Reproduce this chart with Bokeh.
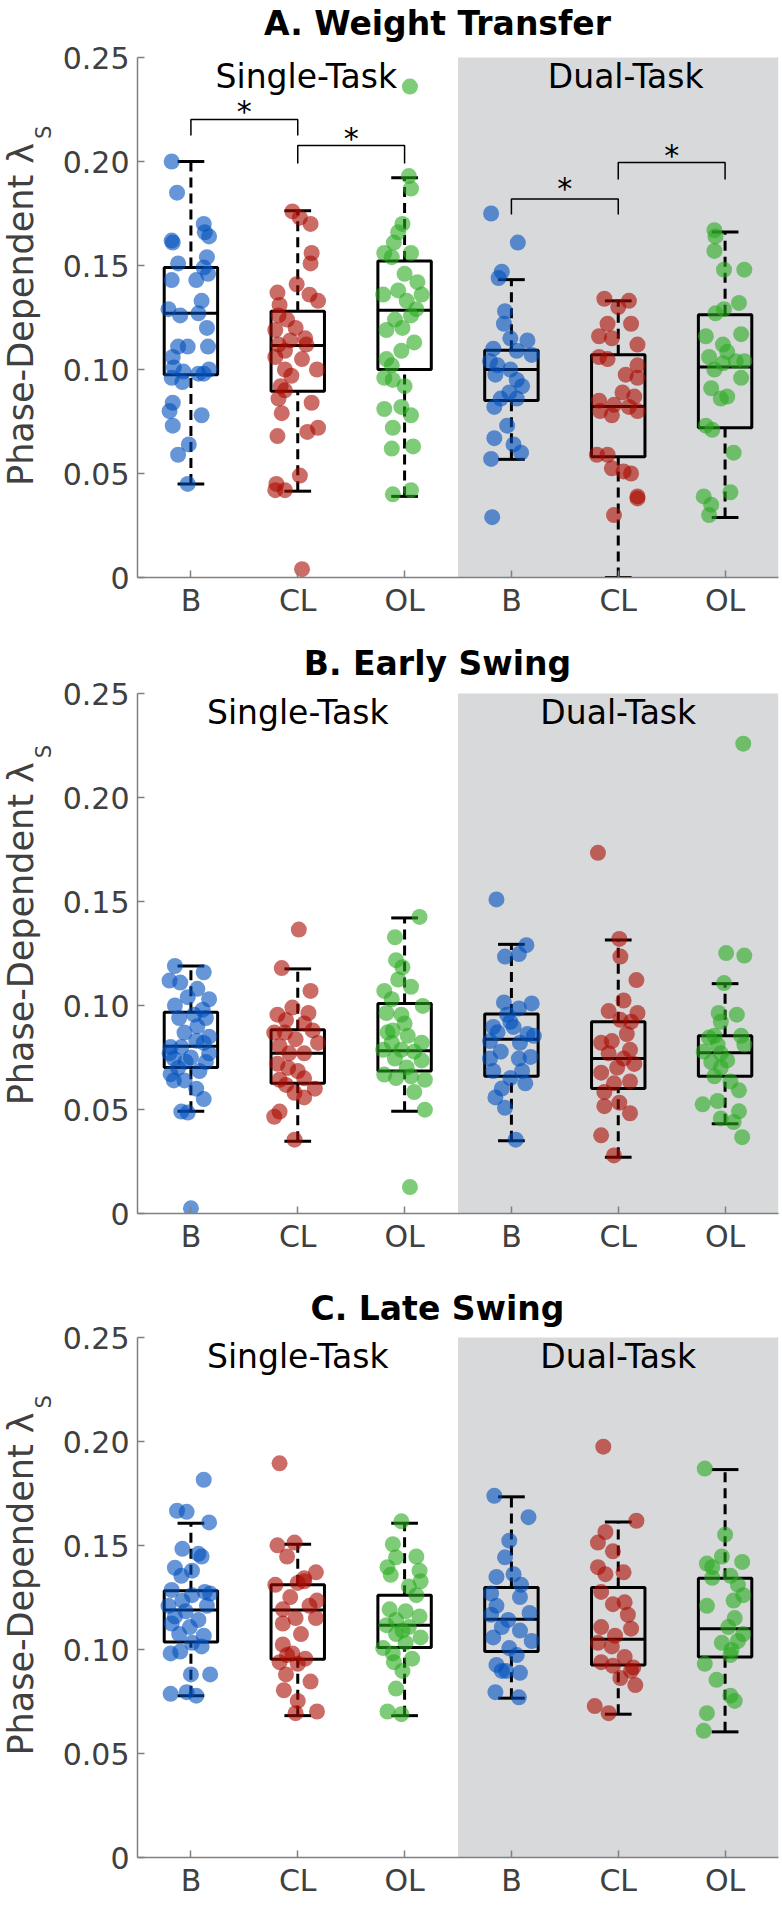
import numpy as np
from bokeh.plotting import figure
from bokeh.layouts import column, row
from bokeh.models import Range1d, FixedTicker, CustomJSTickFormatter
from bokeh.embed import file_html
from bokeh.resources import INLINE
from bokeh.core.properties import value

# ---------------- data ----------------
categories = ["B", "CL", "OL", "B", "CL", "OL"]
conditions = ["Single-Task", "Dual-Task"]
titles = ["A. Weight Transfer", "B. Early Swing", "C. Late Swing"]
y_ticks = [0, 0.05, 0.10, 0.15, 0.20, 0.25]
y_tick_labels = ["0", "0.05", "0.10", "0.15", "0.20", "0.25"]
y_label = "Phase-Dependent λ"
y_label_sub = "S"

# ---- A. Weight Transfer: values and horizontal jitter per group ----
wt_st_b = [0.200, 0.185, 0.170, 0.166, 0.164, 0.162, 0.161, 0.154, 0.151, 0.149, 0.146, 0.143, 0.143, 0.133, 0.129, 0.126, 0.127, 0.120, 0.111, 0.111, 0.111, 0.106, 0.101, 0.099, 0.098, 0.100, 0.098, 0.096, 0.094, 0.084, 0.080, 0.078, 0.073, 0.064, 0.059, 0.045]
wt_st_b_dx = [-0.18, -0.13, 0.12, 0.13, 0.17, -0.18, -0.17, 0.15, -0.12, 0.12, 0.16, -0.18, 0.05, 0.10, -0.21, -0.10, 0.07, 0.15, -0.03, 0.16, -0.12, -0.17, -0.16, -0.07, 0.07, 0.17, 0.12, -0.18, -0.08, -0.17, -0.20, 0.10, -0.17, -0.02, -0.12, -0.03]
wt_st_cl = [0.004, 0.176, 0.173, 0.170, 0.156, 0.151, 0.141, 0.137, 0.136, 0.133, 0.131, 0.126, 0.124, 0.120, 0.119, 0.115, 0.114, 0.112, 0.112, 0.109, 0.105, 0.106, 0.100, 0.100, 0.097, 0.092, 0.090, 0.086, 0.084, 0.079, 0.072, 0.070, 0.068, 0.049, 0.045, 0.042, 0.042]
wt_st_cl_dx = [0.04, -0.05, 0.02, 0.12, 0.13, 0.12, -0.01, -0.19, 0.11, 0.19, -0.17, -0.18, -0.10, -0.02, -0.21, 0.07, -0.07, -0.18, 0.08, -0.12, 0.04, -0.21, -0.12, 0.18, -0.06, -0.16, -0.12, -0.18, 0.13, -0.15, 0.19, 0.09, -0.19, 0.02, -0.20, -0.21, -0.12]
wt_st_ol = [0.236, 0.193, 0.187, 0.170, 0.166, 0.161, 0.156, 0.156, 0.154, 0.146, 0.142, 0.136, 0.138, 0.136, 0.133, 0.129, 0.126, 0.124, 0.119, 0.120, 0.113, 0.109, 0.105, 0.102, 0.096, 0.095, 0.092, 0.081, 0.082, 0.078, 0.072, 0.062, 0.063, 0.040, 0.042]
wt_st_ol_dx = [0.05, 0.04, 0.06, -0.02, -0.06, -0.10, -0.19, 0.06, -0.12, 0.00, 0.12, -0.20, -0.06, 0.16, 0.02, 0.11, 0.06, -0.09, -0.17, -0.02, 0.09, -0.03, -0.17, -0.12, -0.19, -0.11, 0.00, -0.19, -0.03, 0.06, -0.11, -0.12, 0.08, -0.11, 0.06]
wt_dt_b = [0.175, 0.161, 0.147, 0.144, 0.128, 0.122, 0.115, 0.114, 0.110, 0.109, 0.107, 0.104, 0.102, 0.100, 0.0975, 0.095, 0.092, 0.089, 0.086, 0.086, 0.082, 0.073, 0.067, 0.064, 0.060, 0.057, 0.029]
wt_dt_b_dx = [-0.19, 0.06, -0.09, -0.12, -0.06, -0.07, -0.01, 0.15, -0.17, 0.05, 0.19, -0.20, -0.13, -0.01, -0.15, 0.05, 0.10, -0.02, -0.10, 0.05, -0.16, -0.04, -0.16, 0.02, 0.09, -0.19, -0.18]
wt_dt_cl = [0.134, 0.133, 0.130, 0.122, 0.122, 0.116, 0.115, 0.112, 0.106, 0.105, 0.102, 0.0975, 0.096, 0.085, 0.089, 0.087, 0.083, 0.082, 0.080, 0.078, 0.080, 0.059, 0.059, 0.0525, 0.051, 0.050, 0.039, 0.038, 0.030]
wt_dt_cl_dx = [-0.13, 0.10, 0.00, -0.10, 0.12, -0.18, -0.06, 0.18, -0.18, -0.10, 0.18, 0.07, 0.18, -0.18, 0.04, 0.15, -0.04, 0.10, -0.17, -0.06, 0.18, -0.20, -0.10, -0.06, 0.05, 0.12, 0.18, 0.18, -0.04]
wt_dt_ol = [0.167, 0.164, 0.157, 0.148, 0.148, 0.132, 0.129, 0.127, 0.116, 0.117, 0.112, 0.1085, 0.106, 0.104, 0.103, 0.104, 0.100, 0.096, 0.091, 0.087, 0.086, 0.073, 0.071, 0.060, 0.039, 0.041, 0.035, 0.030]
wt_dt_ol_dx = [-0.10, -0.09, -0.10, -0.01, 0.18, 0.13, -0.01, -0.09, -0.18, 0.15, -0.02, 0.02, -0.15, 0.18, -0.02, 0.10, -0.10, 0.15, -0.13, 0.02, -0.04, -0.18, -0.12, 0.08, -0.20, 0.05, -0.13, -0.15]
wt_q1 = [0.0975, 0.0895, 0.100, 0.0851, 0.058, 0.072]
wt_med = [0.127, 0.1115, 0.1285, 0.100, 0.0822, 0.1012]
wt_q3 = [0.149, 0.128, 0.1522, 0.1093, 0.1071, 0.1263]
wt_lo = [0.045, 0.0415, 0.039, 0.0568, 0.0, 0.0288]
wt_hi = [0.200, 0.1763, 0.1922, 0.1432, 0.133, 0.1661]

# significance brackets (panel A only)
sig_left = [1, 2, 4, 5]
sig_right = [2, 3, 5, 6]
sig_top = [0.2202, 0.2077, 0.182, 0.1995]
sig_leg = [0.2125, 0.199, 0.1745, 0.1913]
sig_star = [0.227, 0.214, 0.190, 0.2058]

# ---- B. Early Swing ----
es_st_b = [0.119, 0.116, 0.112, 0.111, 0.108, 0.103, 0.100, 0.098, 0.094, 0.094, 0.090, 0.085, 0.082, 0.080, 0.080, 0.075, 0.077, 0.0745, 0.073, 0.0685, 0.064, 0.064, 0.060, 0.055, 0.049, 0.0485, 0.0025, 0.077, 0.087, 0.083, 0.070, 0.0728, 0.104, 0.0956, 0.067]
es_st_b_dx = [-0.15, 0.12, -0.20, -0.10, 0.06, 0.17, -0.15, 0.11, -0.11, 0.14, 0.06, 0.17, 0.12, -0.19, -0.09, 0.00, 0.17, -0.16, -0.05, 0.08, -0.16, -0.06, 0.05, 0.12, -0.09, -0.03, 0.00, -0.20, -0.06, 0.05, -0.12, 0.14, -0.03, 0.03, -0.19]
es_st_cl = [0.1365, 0.118, 0.107, 0.099, 0.0956, 0.0964, 0.093, 0.0914, 0.088, 0.082, 0.087, 0.0838, 0.0804, 0.077, 0.077, 0.072, 0.070, 0.0643, 0.065, 0.060, 0.058, 0.0558, 0.0465, 0.049, 0.0355, 0.0618, 0.0685, 0.087]
es_st_cl_dx = [0.01, -0.15, 0.12, -0.05, -0.19, 0.10, -0.11, 0.06, 0.14, 0.19, -0.12, -0.02, -0.17, -0.08, 0.06, -0.19, -0.09, -0.17, 0.06, 0.16, -0.03, 0.06, -0.22, -0.17, -0.03, -0.11, 0.00, -0.22]
es_st_ol = [0.1426, 0.1328, 0.1218, 0.1184, 0.1125, 0.109, 0.107, 0.103, 0.0998, 0.0964, 0.0956, 0.0914, 0.088, 0.0854, 0.0821, 0.0821, 0.0787, 0.0787, 0.0778, 0.0745, 0.0736, 0.0702, 0.0668, 0.0651, 0.0643, 0.0584, 0.0499, 0.0127, 0.0871, 0.066]
es_st_ol_dx = [0.14, -0.09, -0.08, -0.02, -0.06, 0.06, -0.19, -0.12, 0.17, -0.17, -0.03, 0.00, -0.11, 0.03, -0.12, 0.16, -0.20, -0.03, 0.09, -0.09, 0.16, 0.02, -0.19, -0.08, 0.19, 0.09, 0.19, 0.05, -0.16, 0.06]
es_dt_b = [0.151, 0.129, 0.1235, 0.1247, 0.1015, 0.101, 0.0986, 0.0897, 0.0922, 0.0897, 0.0863, 0.0854, 0.0829, 0.0821, 0.0778, 0.0753, 0.0745, 0.0745, 0.0685, 0.0685, 0.0651, 0.0626, 0.0601, 0.0558, 0.0508, 0.0355, 0.0956, 0.0871]
es_dt_b_dx = [-0.14, 0.14, -0.06, 0.07, -0.07, 0.19, 0.07, -0.17, -0.01, 0.02, 0.15, 0.21, -0.20, 0.08, -0.10, 0.18, 0.07, -0.20, -0.17, 0.10, -0.01, 0.13, -0.09, -0.15, -0.06, 0.04, -0.04, -0.13]
es_dt_cl = [0.1734, 0.132, 0.1235, 0.1122, 0.1024, 0.0973, 0.0964, 0.0922, 0.0931, 0.0863, 0.0821, 0.0829, 0.077, 0.0745, 0.0719, 0.0677, 0.0635, 0.0626, 0.0584, 0.0516, 0.0533, 0.0482, 0.0376, 0.0279, 0.0787, 0.0702]
es_dt_cl_dx = [-0.19, 0.01, 0.02, 0.17, 0.05, -0.09, 0.18, 0.12, 0.02, 0.08, -0.16, -0.06, -0.09, 0.05, 0.15, -0.16, 0.11, -0.04, -0.13, -0.13, 0.01, 0.11, -0.16, -0.04, 0.11, -0.01]
es_dt_ol = [0.2259, 0.1252, 0.124, 0.1108, 0.0964, 0.0956, 0.0922, 0.0854, 0.0846, 0.0812, 0.0812, 0.0778, 0.077, 0.0728, 0.0702, 0.066, 0.0635, 0.0592, 0.0541, 0.0525, 0.0491, 0.0457, 0.044, 0.0367, 0.0854, 0.0736]
es_dt_ol_dx = [0.17, 0.01, 0.18, -0.01, -0.06, 0.11, -0.04, 0.15, -0.15, -0.07, 0.18, -0.20, -0.04, -0.13, -0.04, -0.10, 0.05, 0.13, -0.07, -0.21, 0.13, -0.04, 0.08, 0.16, -0.10, 0.02]
es_q1 = [0.0702, 0.0626, 0.0685, 0.066, 0.0601, 0.066]
es_med = [0.0804, 0.077, 0.0782, 0.0838, 0.0745, 0.0773]
es_q3 = [0.0968, 0.0883, 0.101, 0.0959, 0.0922, 0.0854]
es_lo = [0.0491, 0.0347, 0.0491, 0.035, 0.0271, 0.0431]
es_hi = [0.119, 0.1176, 0.1421, 0.1294, 0.1315, 0.1105]

# ---- C. Late Swing ----
ls_st_b = [0.1816, 0.1667, 0.1662, 0.1611, 0.1484, 0.146, 0.1447, 0.1393, 0.1379, 0.1354, 0.1286, 0.1277, 0.1269, 0.1261, 0.1235, 0.121, 0.121, 0.1184, 0.1125, 0.1108, 0.1074, 0.1066, 0.1032, 0.1015, 0.0981, 0.099, 0.088, 0.088, 0.0787, 0.0795, 0.0778, 0.1159, 0.1142]
ls_st_b_dx = [0.12, -0.13, -0.04, 0.17, -0.08, 0.07, 0.10, -0.15, 0.01, -0.09, -0.18, 0.13, 0.18, 0.01, -0.08, -0.21, 0.15, -0.05, -0.18, -0.01, -0.11, 0.12, 0.01, 0.10, -0.19, -0.10, 0.00, 0.18, -0.19, -0.04, 0.05, -0.15, 0.07]
ls_st_cl = [0.1895, 0.1501, 0.1514, 0.1447, 0.1371, 0.1342, 0.132, 0.1311, 0.1252, 0.1235, 0.121, 0.1193, 0.1151, 0.1151, 0.1125, 0.1074, 0.1024, 0.0981, 0.0956, 0.0939, 0.0931, 0.088, 0.0846, 0.0804, 0.0753, 0.0694, 0.0702, 0.1328, 0.0973]
ls_st_cl_dx = [-0.17, -0.19, -0.03, -0.10, 0.17, 0.06, 0.00, -0.21, -0.07, 0.18, 0.11, -0.14, -0.02, 0.17, -0.14, 0.03, -0.14, -0.05, 0.07, -0.17, 0.00, -0.11, 0.12, -0.13, 0.00, -0.02, 0.18, 0.06, -0.10]
ls_st_ol = [0.1616, 0.1506, 0.1447, 0.1443, 0.1396, 0.1379, 0.1359, 0.1328, 0.1303, 0.1261, 0.1193, 0.1184, 0.1159, 0.1142, 0.1117, 0.1108, 0.1074, 0.1058, 0.1007, 0.1032, 0.0981, 0.0956, 0.0939, 0.0897, 0.0812, 0.0702, 0.0689, 0.1091]
ls_st_ol_dx = [-0.03, -0.11, 0.11, -0.08, -0.16, 0.14, -0.13, 0.15, 0.04, 0.11, -0.14, 0.01, 0.14, -0.08, -0.17, 0.04, -0.08, 0.15, -0.20, 0.01, -0.11, 0.07, -0.10, -0.02, -0.08, -0.16, -0.03, -0.02]
ls_dt_b = [0.1739, 0.1636, 0.1523, 0.1443, 0.1362, 0.1349, 0.1311, 0.1269, 0.1252, 0.121, 0.1176, 0.1167, 0.1142, 0.1091, 0.1058, 0.1041, 0.1007, 0.0973, 0.0926, 0.0897, 0.0888, 0.0897, 0.0795, 0.077, 0.1108]
ls_dt_b_dx = [-0.16, 0.16, -0.02, -0.06, 0.02, -0.14, 0.09, -0.19, 0.08, -0.14, 0.17, -0.19, -0.03, 0.08, -0.17, 0.19, -0.02, 0.05, -0.14, -0.05, 0.08, -0.09, -0.15, 0.07, -0.09]
ls_dt_cl = [0.1975, 0.1619, 0.1565, 0.1514, 0.1472, 0.1396, 0.1362, 0.1371, 0.1277, 0.1218, 0.1227, 0.1167, 0.1108, 0.110, 0.1066, 0.1032, 0.1015, 0.0964, 0.0939, 0.0922, 0.0897, 0.0863, 0.0829, 0.0728, 0.0694, 0.0914]
ls_dt_cl_dx = [-0.14, 0.17, -0.12, -0.19, -0.05, -0.19, -0.12, 0.05, -0.16, -0.05, 0.06, 0.09, -0.16, 0.12, -0.03, -0.19, -0.06, 0.06, -0.16, -0.05, 0.12, 0.02, 0.16, -0.22, -0.09, 0.14]
ls_dt_ol = [0.187, 0.1552, 0.1413, 0.1447, 0.1421, 0.1345, 0.1354, 0.1311, 0.1261, 0.121, 0.1235, 0.1151, 0.1108, 0.1074, 0.1032, 0.1041, 0.0973, 0.0931, 0.0854, 0.0778, 0.0753, 0.0694, 0.0609, 0.1396, 0.0998]
ls_dt_ol_dx = [-0.19, 0.00, -0.17, -0.03, 0.16, -0.12, 0.05, 0.12, 0.17, -0.17, 0.08, 0.09, 0.03, 0.17, -0.03, 0.12, 0.05, -0.19, -0.08, 0.05, 0.09, -0.17, -0.20, -0.12, 0.06]
ls_q1 = [0.1036, 0.0953, 0.101, 0.099, 0.0926, 0.0964]
ls_med = [0.119, 0.119, 0.1117, 0.1146, 0.1049, 0.110]
ls_q3 = [0.1283, 0.1311, 0.1261, 0.1298, 0.1298, 0.1342]
ls_lo = [0.0778, 0.0682, 0.0682, 0.0766, 0.0689, 0.0604]
ls_hi = [0.1607, 0.1506, 0.1607, 0.1734, 0.1613, 0.1865]

# ---------------- styling ----------------
FONT = "DejaVu Sans"
COLORS = ["#0050be", "#aa0a00", "#28aa1e"]
GRAY_BG = "#d8d9db"
AXIS_GRAY = "#808080"
TEXT_GRAY = "#404040"
LAB_W = 58            # strip holding the rotated y-axis label
MAIN_W = 782 - LAB_W  # plot figure width
AXIS_LEFT = 137       # page x of the y axis
FRAME_RIGHT_GAP = 4
FRAME_W = MAIN_W - (AXIS_LEFT - LAB_W) - FRAME_RIGHT_GAP   # 641
FRAME_H = 520         # height of the 0..0.25 data band
Y_MAX = 0.25
PX_PER_Y = FRAME_H / Y_MAX
X_LO, X_HI = 0.5, len(categories) + 0.5
PX_PER_X = FRAME_W / (X_HI - X_LO)


def make_label_strip(y_range, fig_h, bottom, label_start):
    s = figure(width=LAB_W, height=fig_h, x_range=Range1d(0, LAB_W),
               y_range=y_range, output_backend="svg", title=None,
               toolbar_location=None, x_axis_location=None,
               y_axis_location=None, min_border_left=0, min_border_right=0,
               min_border_top=0, min_border_bottom=bottom)
    s.outline_line_color = None
    s.grid.visible = False
    s.background_fill_color = "white"
    s.border_fill_color = "white"
    s.text(x=[20], y=[label_start], text=[y_label], angle=np.pi / 2,
           text_font=value(FONT), text_font_size="35px", text_color=TEXT_GRAY,
           text_align="left", text_baseline="middle")
    s.text(x=[43], y=[label_start + 347 / PX_PER_Y], text=[y_label_sub],
           angle=np.pi / 2, text_font=value(FONT), text_font_size="21px",
           text_color=TEXT_GRAY, text_align="left", text_baseline="middle")
    return s


def make_panel(title, title_px, groups, q1, med, q3, lo, hi, fig_h, top_px,
               bottom, cond_x, label_start, brackets=None):
    y_top = Y_MAX + top_px / PX_PER_Y
    yr = Range1d(0, y_top)
    p = figure(width=MAIN_W, height=fig_h, x_range=Range1d(X_LO, X_HI),
               y_range=yr, output_backend="svg", title=None,
               toolbar_location=None, min_border_left=AXIS_LEFT - LAB_W,
               min_border_right=FRAME_RIGHT_GAP, min_border_top=0,
               min_border_bottom=bottom)
    p.outline_line_color = None
    p.grid.visible = False
    p.background_fill_color = "white"
    p.border_fill_color = "white"

    n_single = len(categories) // 2
    p.quad(left=[X_LO + n_single], right=[X_HI], bottom=[0], top=[Y_MAX],
           fill_color=GRAY_BG, line_color=None)

    xs = np.arange(1, len(categories) + 1, dtype=float)
    hw, cw = 0.25, 0.125
    blk = dict(line_color="black", line_width=3)
    p.segment(x0=xs, y0=q3, x1=xs, y1=hi, line_dash="10 6", **blk)
    p.segment(x0=xs, y0=lo, x1=xs, y1=q1, line_dash="10 6", **blk)
    p.segment(x0=xs - cw, y0=hi, x1=xs + cw, y1=hi, **blk)
    p.segment(x0=xs - cw, y0=lo, x1=xs + cw, y1=lo, **blk)
    p.quad(left=xs - hw, right=xs + hw, bottom=q1, top=q3,
           fill_color=None, **blk)
    p.segment(x0=xs - hw, y0=med, x1=xs + hw, y1=med, **blk)

    for i, (vals, dx) in enumerate(groups):
        p.scatter(x=xs[i] + np.array(dx), y=vals, size=16,
                  fill_color=COLORS[i % 3], fill_alpha=0.6, line_color=None)

    p.text(x=cond_x, y=[0.241, 0.241], text=conditions,
           text_font=value(FONT), text_font_size="33px", text_color="black",
           text_align="center", text_baseline="middle")

    # panel title (inside the extended frame, above the data band)
    p.text(x=[X_LO + (437 - AXIS_LEFT) / PX_PER_X], y=[Y_MAX + title_px / PX_PER_Y],
           text=[title], text_font=value(FONT), text_font_size="33px",
           text_font_style="bold", text_color="black",
           text_align="center", text_baseline="middle")

    if brackets is not None:
        bl, br, bt, bg, bs = brackets
        p.multi_line(xs=[[a, a, b, b] for a, b in zip(bl, br)],
                     ys=[[g, t, t, g] for t, g in zip(bt, bg)],
                     line_color="black", line_width=1.5)
        p.text(x=[(a + b) / 2 for a, b in zip(bl, br)],
               y=[s - 6 / PX_PER_Y for s in bs], text=["*"] * len(bl),
               text_font=value(FONT), text_font_size="30px",
               text_color="black", text_align="center",
               text_baseline="middle")

    for ax in (p.xaxis[0], p.yaxis[0]):
        ax.axis_line_color = AXIS_GRAY
        ax.axis_line_width = 1.5
        ax.major_tick_line_color = AXIS_GRAY
        ax.major_tick_line_width = 1.5
        ax.major_tick_in = 7
        ax.major_tick_out = 0
        ax.minor_tick_line_color = None
        ax.major_label_text_font = FONT
        ax.major_label_text_font_size = "30px"
        ax.major_label_text_color = TEXT_GRAY
    p.xaxis.major_label_standoff = 5
    p.yaxis.major_label_standoff = 8
    p.yaxis.bounds = (0, Y_MAX)
    p.xaxis.ticker = FixedTicker(ticks=list(xs))
    p.xaxis.formatter = CustomJSTickFormatter(
        args=dict(cats=categories),
        code="const i = Math.round(tick) - 1; return (i >= 0 && i < cats.length) ? cats[i] : '';")
    p.yaxis.ticker = FixedTicker(ticks=y_ticks)
    p.yaxis.formatter = CustomJSTickFormatter(
        args=dict(vals=y_ticks, labs=y_tick_labels),
        code="const i = vals.findIndex(v => Math.abs(v - tick) < 1e-9); return i >= 0 ? labs[i] : '';")

    strip = make_label_strip(yr, fig_h, bottom, label_start)
    return row(strip, p)


panel_specs = [
    dict(title=titles[0], title_px=34,
         groups=[(wt_st_b, wt_st_b_dx), (wt_st_cl, wt_st_cl_dx), (wt_st_ol, wt_st_ol_dx),
                 (wt_dt_b, wt_dt_b_dx), (wt_dt_cl, wt_dt_cl_dx), (wt_dt_ol, wt_dt_ol_dx)],
         q1=wt_q1, med=wt_med, q3=wt_q3, lo=wt_lo, hi=wt_hi,
         fig_h=633, top_px=57, bottom=56, cond_x=[2.08, 5.07], label_start=0.044,
         brackets=(sig_left, sig_right, sig_top, sig_leg, sig_star)),
    dict(title=titles[1], title_px=30,
         groups=[(es_st_b, es_st_b_dx), (es_st_cl, es_st_cl_dx), (es_st_ol, es_st_ol_dx),
                 (es_dt_b, es_dt_b_dx), (es_dt_cl, es_dt_cl_dx), (es_dt_ol, es_dt_ol_dx)],
         q1=es_q1, med=es_med, q3=es_q3, lo=es_lo, hi=es_hi,
         fig_h=636, top_px=60, bottom=56, cond_x=[2.0, 5.0], label_start=0.052),
    dict(title=titles[2], title_px=29,
         groups=[(ls_st_b, ls_st_b_dx), (ls_st_cl, ls_st_cl_dx), (ls_st_ol, ls_st_ol_dx),
                 (ls_dt_b, ls_dt_b_dx), (ls_dt_cl, ls_dt_cl_dx), (ls_dt_ol, ls_dt_ol_dx)],
         q1=ls_q1, med=ls_med, q3=ls_q3, lo=ls_lo, hi=ls_hi,
         fig_h=638, top_px=68, bottom=50, cond_x=[2.0, 5.0], label_start=0.049),
]

layout = column(*[make_panel(**spec) for spec in panel_specs])
open("out.html", "w").write(file_html(layout, INLINE))
